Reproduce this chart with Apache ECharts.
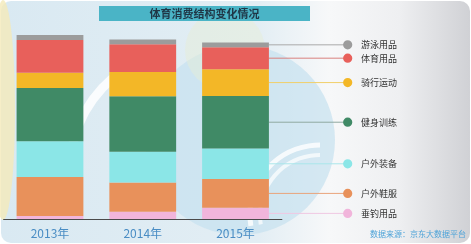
<!DOCTYPE html>
<html>
<head>
<meta charset="utf-8">
<script src="https://cdn.jsdelivr.net/npm/echarts@6/dist/echarts.min.js"></script>
<style>
html,body{margin:0;padding:0;background:#fff;}
#c{width:471px;height:244px;}
</style>
</head>
<body>
<div id="c"></div>
<script>
var categories = ['2013年', '2014年', '2015年'];
// stacked bottom -> top
var seriesNames = ['垂钓用品', '户外鞋服', '户外装备', '健身训练', '骑行运动', '体育用品', '游泳用品'];
var pinkVals   = [1.6, 4.0, 6.1];
var orangeVals = [21.2, 15.9, 15.6];
var cyanVals   = [19.4, 16.7, 16.6];
var greenVals  = [29.0, 30.1, 28.6];
var yellowVals = [8.3, 13.2, 14.5];
var redVals    = [17.8, 15.1, 12.0];
var grayVals   = [2.7, 2.6, 2.5];
var allVals = [pinkVals, orangeVals, cyanVals, greenVals, yellowVals, redVals, grayVals];
var colors = ['#f1b5db', '#e8915b', '#8be6e7', '#408a66', '#f3b727', '#e8605b', '#9c9c9c'];
var lineColors = ['#f0c8e2', '#eaa47c', '#a9e6ea', '#8fa9a0', '#f1cf6a', '#d9817e', '#a9a9a9'];
var titleText = '体育消费结构变化情况';
var sourceText = '数据来源：京东大数据平台';

var chart = echarts.init(document.getElementById('c'), null, {renderer: 'canvas'});

var bg = [
  {type: 'rect', shape: {x: 1, y: 1, width: 469, height: 242, r: 10},
   style: {fill: new echarts.graphic.LinearGradient(0, 0, 1, 0, [
     {offset: 0, color: '#d9e9f2'}, {offset: 0.55, color: '#e3eef4'},
     {offset: 0.7, color: '#f7f8f9'}, {offset: 0.85, color: '#eeeff1'}, {offset: 1, color: '#d0d1d5'}])}},
  {type: 'circle', shape: {cx: 240, cy: 140, r: 95}, style: {fill: 'rgba(198,225,240,0.7)'}},
  {type: 'circle', shape: {cx: 225, cy: 50, r: 40}, style: {fill: 'rgba(230,238,212,0.45)'}},
  {type: 'ellipse', shape: {cx: 3, cy: 110, rx: 12, ry: 110}, style: {fill: 'rgba(244,234,185,0.8)'}},
  {type: 'arc', shape: {cx: 320, cy: 215, r: 70, startAngle: Math.PI * 0.95, endAngle: Math.PI * 1.5}, style: {stroke: 'rgba(255,255,255,0.8)', lineWidth: 5, fill: null}},
  {type: 'arc', shape: {cx: 320, cy: 215, r: 60, startAngle: Math.PI * 0.95, endAngle: Math.PI * 1.5}, style: {stroke: 'rgba(255,255,255,0.7)', lineWidth: 4, fill: null}},
  {type: 'arc', shape: {cx: 190, cy: 170, r: 120, startAngle: Math.PI * 1.05, endAngle: Math.PI * 1.35}, style: {stroke: 'rgba(255,255,255,0.85)', lineWidth: 9, fill: null}},
  {type: 'rect', shape: {x: 99, y: 6, width: 211, height: 15}, style: {fill: '#4ab4c6'}},
  {type: 'text', x: 204.5, y: 14, style: {text: titleText, fill: '#1f3646', font: 'bold 11px "Noto Sans CJK SC"', align: 'center', verticalAlign: 'middle'}},
  {type: 'text', x: 466, y: 234, style: {text: sourceText, fill: '#4da3d8', font: '8px "Noto Sans CJK SC"', align: 'right', verticalAlign: 'middle'}}
];

var series = seriesNames.map(function (n, i) {
  return {
    name: n, type: 'bar', stack: 'total', data: allVals[i],
    barCategoryGap: '28%', itemStyle: {color: colors[i]}, silent: true
  };
});

chart.setOption({
  animation: false,
  backgroundColor: 'transparent',
  graphic: {elements: bg},
  grid: {left: 3.6, width: 278.3, top: 35, bottom: 23},
  xAxis: {
    type: 'category', data: categories,
    axisLine: {lineStyle: {color: '#4a4a4a', width: 1}},
    axisTick: {show: false},
    axisLabel: {color: '#4a8dc4', fontSize: 12, margin: 6, fontFamily: '"Noto Sans CJK SC"'}
  },
  yAxis: {type: 'value', min: -1.09, max: 100, show: false, splitLine: {show: false}},
  series: series
});

// connector lines, dots and labels for the 2015 bar
var extra = [];
var cum = 0;
var barRight = chart.convertToPixel({gridIndex: 0}, [2, 0])[0] + 33.3;
for (var i = 0; i < seriesNames.length; i++) {
  var v = allVals[i][2];
  var mid = cum + v / 2;
  cum += v;
  var y = chart.convertToPixel({gridIndex: 0}, [2, mid])[1];
  extra.push({type: 'line', shape: {x1: barRight, y1: y, x2: 345, y2: y}, style: {stroke: lineColors[i], lineWidth: 1}});
  extra.push({type: 'circle', shape: {cx: 347.7, cy: y, r: 4.6}, style: {fill: colors[i]}});
  extra.push({type: 'text', x: 361, y: y, style: {text: seriesNames[i], fill: '#333', font: '9px "Noto Sans CJK SC"', verticalAlign: 'middle'}});
}
chart.setOption({graphic: {elements: bg.concat(extra)}}, {replaceMerge: ['graphic']});
</script>
</body>
</html>
